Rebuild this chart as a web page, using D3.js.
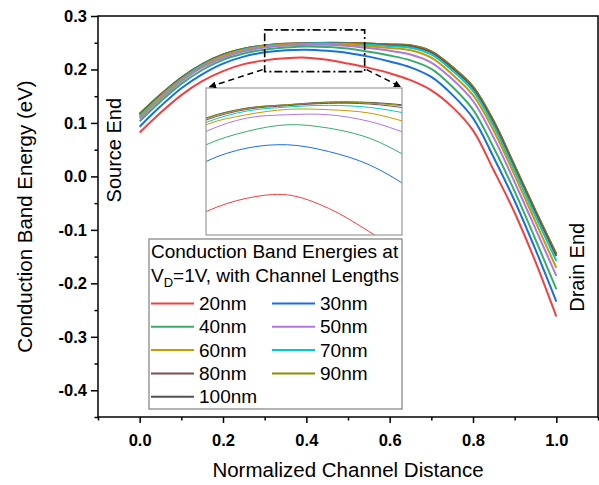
<!DOCTYPE html>
<html>
<head>
<meta charset="utf-8">
<script src="https://cdn.jsdelivr.net/npm/d3@7"></script>
<style>
  body { margin: 0; background: #fff; }
  svg { font-family: "Liberation Sans", Arial, sans-serif; }
</style>
</head>
<body>
<div id="chart"></div>
<script>
// Datos (distancia normalizada vs energía de banda)
const xPos = [0, 0.05, 0.1, 0.15, 0.2, 0.25, 0.3, 0.35, 0.4, 0.45, 0.5, 0.55, 0.6, 0.65, 0.7, 0.75, 0.8, 0.85, 0.9, 0.95, 1.0]

const e20 = [0.082, 0.119, 0.152, 0.178, 0.197, 0.210, 0.217, 0.221, 0.222, 0.218, 0.211, 0.203, 0.193, 0.180, 0.161, 0.130, 0.086, 0.011, -0.068, -0.160, -0.262]
const e30 = [0.093, 0.131, 0.165, 0.191, 0.211, 0.224, 0.232, 0.236, 0.237, 0.235, 0.231, 0.224, 0.215, 0.204, 0.186, 0.153, 0.109, 0.035, -0.046, -0.137, -0.234]
const e40 = [0.103, 0.140, 0.173, 0.199, 0.218, 0.230, 0.237, 0.241, 0.243, 0.242, 0.239, 0.233, 0.226, 0.217, 0.201, 0.168, 0.125, 0.053, -0.028, -0.118, -0.211]
const e50 = [0.108, 0.145, 0.178, 0.204, 0.222, 0.234, 0.241, 0.245, 0.246, 0.246, 0.244, 0.240, 0.235, 0.228, 0.213, 0.182, 0.141, 0.072, -0.011, -0.098, -0.186]
const e60 = [0.111, 0.148, 0.180, 0.206, 0.225, 0.236, 0.243, 0.246, 0.2476, 0.2475, 0.2465, 0.2435, 0.240, 0.236, 0.222, 0.191, 0.152, 0.085, 0.002, -0.085, -0.171]
const e70 = [0.113, 0.150, 0.182, 0.208, 0.226, 0.2375, 0.2437, 0.2471, 0.2483, 0.2488, 0.2482, 0.2462, 0.2435, 0.2408, 0.2282, 0.1983, 0.1598, 0.0933, 0.0103, -0.0746, -0.158]
const e80 = [0.1153, 0.1516, 0.1838, 0.209, 0.2272, 0.2384, 0.2444, 0.2476, 0.2487, 0.2494, 0.2492, 0.2478, 0.2455, 0.2436, 0.2318, 0.2024, 0.1651, 0.0998, 0.0169, -0.0674, -0.1491]
const e90 = [0.1165, 0.1525, 0.1845, 0.2095, 0.2277, 0.2387, 0.2448, 0.2479, 0.249, 0.2496, 0.2495, 0.2484, 0.2465, 0.2448, 0.2335, 0.2045, 0.1675, 0.1022, 0.019, -0.065, -0.1465]
const e100 = [0.117, 0.153, 0.185, 0.210, 0.228, 0.239, 0.245, 0.248, 0.249, 0.2498, 0.2497, 0.2487, 0.2468, 0.2452, 0.234, 0.205, 0.168, 0.103, 0.020, -0.064, -0.145]

const lengths = ["20nm", "30nm", "40nm", "50nm", "60nm", "70nm", "80nm", "90nm", "100nm"]
const seriesValues = [e20, e30, e40, e50, e60, e70, e80, e90, e100]
const colors = ["#F14040", "#1A6FDF", "#37AD6B", "#B177DE", "#CC9900", "#00CBCC", "#7D4E4E", "#8E8E00", "#515151"]

const xTicks = [0, 0.2, 0.4, 0.6, 0.8, 1.0]
const xMinor = [-0.1, 0.1, 0.3, 0.5, 0.7, 0.9, 1.1]
const yTicks = [-0.4, -0.3, -0.2, -0.1, 0.0, 0.1, 0.2, 0.3]
const yMinor = [-0.45, -0.35, -0.25, -0.15, -0.05, 0.05, 0.15, 0.25]

// Zona ampliada (rectángulo punteado) y escala del recuadro
const zoomX = [0.3, 0.54]
const zoomY = [0.196, 0.274]
const insetY = [0.21, 0.254]

const notes = [
    { text: "Source End", x: -0.046, y: 0.049 },
    { text: "Drain End", x: 1.066, y: -0.17 }
]

const width = 599, height = 485
const margin = { top: 16, right: 1, bottom: 68, left: 98 }

const svg = d3.select("#chart").append("svg")
    .attr("width", width)
    .attr("height", height)

const x = d3.scaleLinear().domain([-0.1, 1.1]).range([margin.left, width - margin.right])
const y = d3.scaleLinear().domain([-0.45, 0.3]).range([height - margin.bottom, margin.top])

const series = lengths.map((name, i) => ({
    name,
    color: colors[i],
    points: xPos.map((d, j) => ({ x: d, y: seriesValues[i][j] }))
}))

const fmt = d => d.toFixed(1)

// Ejes
svg.append("g")
    .attr("transform", `translate(0,${y.range()[0]})`)
    .call(d3.axisBottom(x).tickValues(xTicks).tickSize(6).tickPadding(11).tickFormat(fmt))
svg.append("g")
    .attr("transform", `translate(0,${y.range()[0]})`)
    .call(d3.axisBottom(x).tickValues(xMinor).tickSize(3.5).tickFormat(""))
svg.append("g")
    .attr("transform", `translate(${x.range()[0]},0)`)
    .call(d3.axisLeft(y).tickValues(yTicks).tickSize(7).tickPadding(4).tickFormat(fmt))
svg.append("g")
    .attr("transform", `translate(${x.range()[0]},0)`)
    .call(d3.axisLeft(y).tickValues(yMinor).tickSize(3.5).tickFormat(""))

svg.selectAll(".domain").remove()
svg.selectAll(".tick line").attr("stroke", "#000").attr("stroke-width", 1.5)
svg.selectAll(".tick text")
    .attr("fill", "#000")
    .style("font-size", "16.5px")
    .style("font-weight", "bold")
    .style("font-family", "'Liberation Sans', Arial, sans-serif")

// Marco
svg.append("rect")
    .attr("x", x.range()[0])
    .attr("y", y.range()[1])
    .attr("width", x.range()[1] - x.range()[0])
    .attr("height", y.range()[0] - y.range()[1])
    .attr("fill", "none")
    .attr("stroke", "#000")
    .attr("stroke-width", 1.5)

// Curvas
const line = d3.line()
    .x(d => x(d.x))
    .y(d => y(d.y))
    .curve(d3.curveCatmullRom.alpha(0.5))

svg.append("g")
    .selectAll("path")
    .data(series.slice().reverse())
    .join("path")
    .attr("d", d => line(d.points))
    .attr("fill", "none")
    .attr("stroke", d => d.color)
    .attr("stroke-width", 2)

// Recuadro ampliado
const inset = { left: 206, top: 88, right: 402, bottom: 235 }
const xi = d3.scaleLinear().domain(zoomX).range([inset.left, inset.right])
const yi = d3.scaleLinear().domain(insetY).range([inset.bottom, inset.top])

svg.append("clipPath").attr("id", "insetClip")
    .append("rect")
    .attr("x", inset.left).attr("y", inset.top)
    .attr("width", inset.right - inset.left).attr("height", inset.bottom - inset.top)

svg.append("rect")
    .attr("x", inset.left).attr("y", inset.top)
    .attr("width", inset.right - inset.left).attr("height", inset.bottom - inset.top)
    .attr("fill", "#fff")

const insetLine = d3.line()
    .x(d => xi(d.x))
    .y(d => yi(d.y))
    .curve(d3.curveCatmullRom.alpha(0.5))

svg.append("g")
    .attr("clip-path", "url(#insetClip)")
    .selectAll("path")
    .data(series.slice().reverse())
    .join("path")
    .attr("d", d => insetLine(d.points))
    .attr("fill", "none")
    .attr("stroke", d => d.color)
    .attr("stroke-width", 1)

svg.append("rect")
    .attr("x", inset.left).attr("y", inset.top)
    .attr("width", inset.right - inset.left).attr("height", inset.bottom - inset.top)
    .attr("fill", "none")
    .attr("stroke", "#999")
    .attr("stroke-width", 1.2)

// Rectángulo punteado y flechas
svg.append("rect")
    .attr("x", x(zoomX[0]))
    .attr("y", y(zoomY[1]))
    .attr("width", x(zoomX[1]) - x(zoomX[0]))
    .attr("height", y(zoomY[0]) - y(zoomY[1]))
    .attr("fill", "none")
    .attr("stroke", "#000")
    .attr("stroke-width", 1.6)
    .attr("stroke-dasharray", "8,3,2,3")

svg.append("defs").append("marker")
    .attr("id", "arrow")
    .attr("viewBox", "0 0 10 10")
    .attr("refX", 10).attr("refY", 5)
    .attr("markerWidth", 7).attr("markerHeight", 7)
    .attr("markerUnits", "userSpaceOnUse")
    .attr("orient", "auto")
    .append("path")
    .attr("d", "M0,0L10,5L0,10z")
    .attr("fill", "#000")

const arrows = [
    { x1: x(zoomX[0]) - 2, y1: y(zoomY[0]) - 2, x2: inset.left + 3, y2: inset.top - 1 },
    { x1: x(zoomX[1]) + 2, y1: y(zoomY[0]) - 2, x2: inset.right - 1, y2: inset.top - 1 }
]
svg.append("g")
    .selectAll("line")
    .data(arrows)
    .join("line")
    .attr("x1", d => d.x1).attr("y1", d => d.y1)
    .attr("x2", d => d.x2).attr("y2", d => d.y2)
    .attr("stroke", "#000")
    .attr("stroke-width", 1.5)
    .attr("stroke-dasharray", "6,4")
    .attr("marker-end", "url(#arrow)")

// Anotaciones de extremos
svg.append("g")
    .selectAll("text")
    .data(notes)
    .join("text")
    .attr("transform", d => `translate(${x(d.x)},${y(d.y)}) rotate(-90)`)
    .attr("text-anchor", "middle")
    .attr("font-size", 20)
    .attr("fill", "#000")
    .text(d => d.text)

// Títulos de ejes
svg.append("text")
    .attr("x", (x.range()[0] + x.range()[1]) / 2)
    .attr("y", 477)
    .attr("text-anchor", "middle")
    .attr("font-size", 20.5)
    .text("Normalized Channel Distance")

svg.append("text")
    .attr("transform", `translate(32,${(y.range()[0] + y.range()[1]) / 2}) rotate(-90)`)
    .attr("text-anchor", "middle")
    .attr("font-size", 20.5)
    .text("Conduction Band Energy (eV)")

// Leyenda
const legend = svg.append("g")
legend.append("rect")
    .attr("x", 149).attr("y", 239)
    .attr("width", 253).attr("height", 170)
    .attr("fill", "#fff")
    .attr("stroke", "#666")
    .attr("stroke-width", 1)

legend.append("text")
    .attr("x", 151).attr("y", 258)
    .attr("font-size", 19)
    .text("Conduction Band Energies at")

const title2 = legend.append("text")
    .attr("x", 151).attr("y", 281.5)
    .attr("font-size", 19)
title2.append("tspan").text("V")
title2.append("tspan").attr("dy", 5).attr("font-size", 13).text("D")
title2.append("tspan").attr("dy", -5).text("=1V, with Channel Lengths")

const items = legend.selectAll("g.item")
    .data(series)
    .join("g")
    .attr("class", "item")
    .attr("transform", (d, i) => `translate(${i % 2 === 0 ? 151 : 272},${303.5 + Math.floor(i / 2) * 23.3})`)

items.append("line")
    .attr("x1", 0).attr("x2", 43)
    .attr("y1", 0).attr("y2", 0)
    .attr("stroke", d => d.color)
    .attr("stroke-width", 2)

items.append("text")
    .attr("x", 48)
    .attr("y", 6.5)
    .attr("font-size", 19)
    .text(d => d.name)
</script>
</body>
</html>
